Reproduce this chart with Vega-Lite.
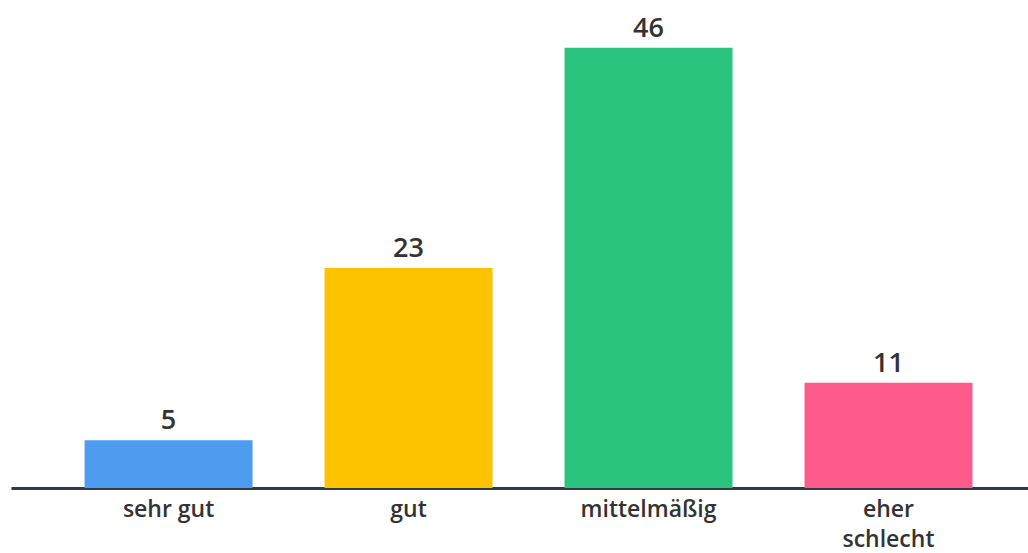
{
  "$schema": "https://vega.github.io/schema/vega-lite/v6.json",
  "width": 1017,
  "height": 488,
  "autosize": "none",
  "padding": {"left": 11, "top": 0, "right": 0, "bottom": 65},
  "background": "#ffffff",
  "config": {"view": {"stroke": null}, "font": "Open Sans"},
  "data": {
    "values": [
      {"kategorie": "sehr gut", "wert": 5},
      {"kategorie": "gut", "wert": 23},
      {"kategorie": "mittelmäßig", "wert": 46},
      {"kategorie": "eher schlecht", "wert": 11}
    ]
  },
  "encoding": {
    "x": {
      "field": "kategorie",
      "type": "nominal",
      "sort": null,
      "scale": {"paddingInner": 0.3, "paddingOuter": 0.269, "align": 0.57},
      "axis": {
        "title": null,
        "labelAngle": 0,
        "ticks": false,
        "domainColor": "#333b45",
        "domainWidth": 3,
        "labelFont": "Open Sans",
        "labelFontSize": 23,
        "labelFontWeight": 600,
        "labelColor": "#333333",
        "labelPadding": 10,
        "labelBaseline": "top",
        "labelLineHeight": 30,
        "labelExpr": "datum.value == 'eher schlecht' ? ['eher', 'schlecht'] : datum.value"
      }
    },
    "y": {
      "field": "wert",
      "type": "quantitative",
      "scale": {"domain": [0, 51]},
      "axis": null
    }
  },
  "layer": [
    {
      "mark": {"type": "bar"},
      "encoding": {
        "color": {
          "field": "kategorie",
          "type": "nominal",
          "sort": null,
          "scale": {
            "domain": ["sehr gut", "gut", "mittelmäßig", "eher schlecht"],
            "range": ["#4d9cf0", "#fdc200", "#2bc47f", "#fe5a8b"]
          },
          "legend": null
        }
      }
    },
    {
      "mark": {
        "type": "text",
        "baseline": "bottom",
        "dy": -5,
        "font": "Open Sans",
        "fontSize": 27,
        "fontWeight": 600,
        "color": "#333333"
      },
      "encoding": {"text": {"field": "wert", "type": "quantitative"}}
    }
  ]
}
